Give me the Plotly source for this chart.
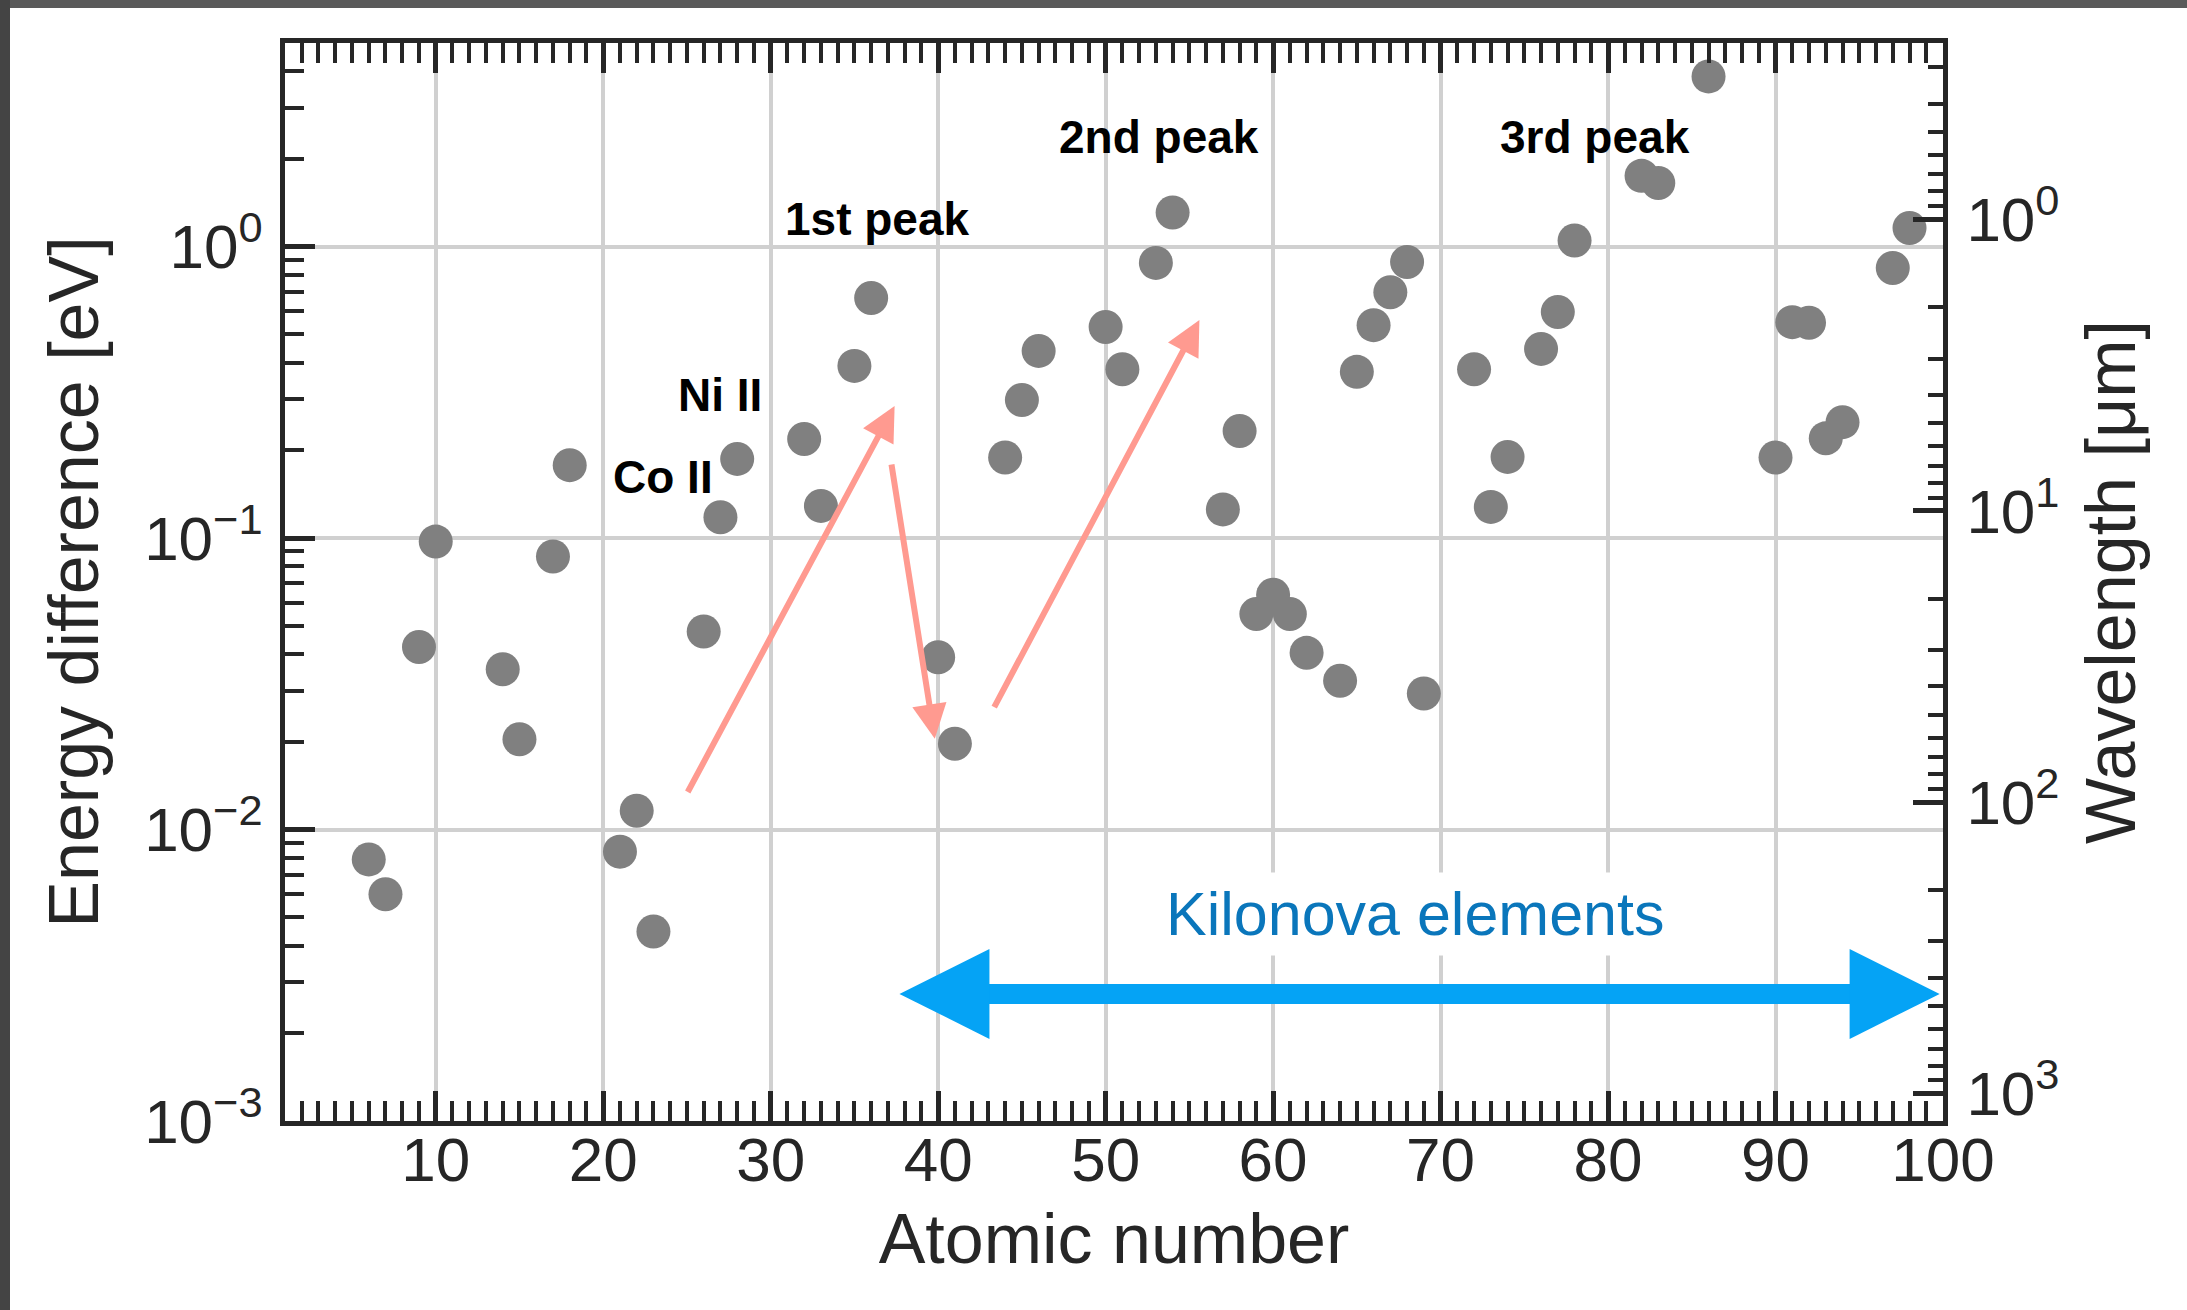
import math
import plotly.graph_objects as go

# ---------------- data ----------------
atomic_number = [6, 7, 9, 10, 14, 15, 17, 18, 21, 22, 23, 26, 27, 28, 32, 33, 35, 36,
                 40, 41, 44, 45, 46, 50, 51, 53, 54, 57, 58, 59, 60, 61, 62, 64, 65,
                 66, 67, 68, 69, 72, 73, 74, 76, 77, 78, 82, 83, 86, 90, 91, 92, 93,
                 94, 97, 98]
energy_ev = [0.0079, 0.0060, 0.0423, 0.0973, 0.0355, 0.0204, 0.0865, 0.178, 0.0084,
             0.0116, 0.00447, 0.0478, 0.118, 0.187, 0.219, 0.129, 0.39, 0.667,
             0.039, 0.0197, 0.189, 0.298, 0.439, 0.53, 0.38, 0.88, 1.31, 0.1255,
             0.233, 0.0549, 0.0639, 0.0549, 0.0404, 0.0324, 0.372, 0.538, 0.698,
             0.886, 0.0293, 0.38, 0.128, 0.19, 0.446, 0.597, 1.05, 1.75, 1.655,
             3.84, 0.189, 0.551, 0.548, 0.22, 0.25, 0.845, 1.16]
HC_EV_UM = 1.23984
wavelength_um = [HC_EV_UM / e for e in energy_ev]

x_range = [1, 100]
energy_range = [1e-3, 5]
x_ticks = [10, 20, 30, 40, 50, 60, 70, 80, 90, 100]
energy_ticks = [1e-3, 1e-2, 1e-1, 1]
energy_tick_text = ["10<sup>\u22123</sup>", "10<sup>\u22122</sup>", "10<sup>\u22121</sup>", "10<sup>0</sup>"]
wavelength_ticks = [1, 10, 100, 1000]
wavelength_tick_text = ["10<sup>0</sup>", "10<sup>1</sup>", "10<sup>2</sup>", "10<sup>3</sup>"]

peak_labels = ["1st peak", "2nd peak", "3rd peak"]
peak_x = [36.4, 53.2, 79.25]
peak_e = [1.245, 2.385, 2.385]
ion_labels = ["Ni II", "Co II"]
ion_x = [26.95, 23.6]
ion_e = [0.3105, 0.162]

# trend arrows: (tail Z, tail E) -> (head Z, head E)
trend_tail_x = [25.0, 37.2, 43.3]
trend_tail_e = [0.0133, 0.181, 0.026]
trend_head_x = [37.4, 39.8, 55.6]
trend_head_e = [0.284, 0.0205, 0.56]

kilonova_label = "Kilonova elements"
kilonova_span = [37.6, 99.8]
kilonova_e = 0.00273
kilonova_label_x = 68.5
kilonova_label_e = 0.00514

# ---------------- styles ----------------
W, H = 2187, 1310
L, R, T, B = 285, 2187 - 1943, 43, 1310 - 1121
AX = "#262626"
GRID = "#d0d0d0"
FAM = "Liberation Sans, Arial, sans-serif"
TICKFONT = dict(family=FAM, size=62, color=AX)
TITLEFONT = dict(family=FAM, size=70, color=AX)
LABELFONT = dict(family=FAM, size=46, color="#000000", weight="bold")

fig = go.Figure()
fig.add_trace(go.Scatter(
    x=atomic_number, y=energy_ev, mode="markers",
    marker=dict(size=34, color="#808080", line=dict(width=0)),
    showlegend=False, hoverinfo="skip"))
fig.add_trace(go.Scatter(
    x=atomic_number, y=wavelength_um, mode="markers", yaxis="y2",
    marker=dict(size=1, opacity=0), showlegend=False, hoverinfo="skip"))

ann = []
for t, x, e in zip(peak_labels + ion_labels, peak_x + ion_x, peak_e + ion_e):
    ann.append(dict(x=x, y=math.log10(e), xref="x", yref="y", text=t, showarrow=False,
                    font=LABELFONT, xanchor="center", yanchor="middle"))
ann.append(dict(x=kilonova_label_x, y=math.log10(kilonova_label_e), xref="x", yref="y",
                text=kilonova_label, showarrow=False, bgcolor="white", borderpad=7,
                font=dict(family=FAM, size=61, color="#0a76bb"),
                xanchor="center", yanchor="middle"))
for tx, te, hx, he in zip(trend_tail_x, trend_tail_e, trend_head_x, trend_head_e):
    ann.append(dict(x=hx, y=math.log10(he), ax=tx, ay=math.log10(te), xref="x", yref="y",
                    axref="x", ayref="y", text="", showarrow=True, arrowhead=2,
                    arrowsize=1.15, arrowwidth=6, arrowcolor="#ff9a90", standoff=0))
ann.append(dict(x=kilonova_span[1], y=math.log10(kilonova_e), ax=kilonova_span[0],
                ay=math.log10(kilonova_e), xref="x", yref="y", axref="x", ayref="y",
                text="", showarrow=True, arrowside="end+start", arrowhead=2,
                startarrowhead=2, arrowsize=0.9, startarrowsize=0.9, arrowwidth=20,
                arrowcolor="#05a3f5", standoff=0, startstandoff=0))

# photo frame (dark strips at top and left)
def px_to_paper_x(px):
    return (px - L) / (W - L - R)

def px_to_paper_y(py):
    return (H - B - py) / (H - T - B)

shapes = [
    dict(type="rect", xref="paper", yref="paper", layer="below",
         x0=px_to_paper_x(0), x1=px_to_paper_x(W), y0=px_to_paper_y(0), y1=px_to_paper_y(8),
         fillcolor="#5a5a5a", line=dict(width=0)),
    dict(type="rect", xref="paper", yref="paper", layer="below",
         x0=px_to_paper_x(0), x1=px_to_paper_x(10), y0=px_to_paper_y(0), y1=px_to_paper_y(H),
         fillcolor="#444444", line=dict(width=0)),
]

fig.update_layout(
    width=W, height=H, margin=dict(l=L, r=R, t=T, b=B, autoexpand=False),
    paper_bgcolor="white", plot_bgcolor="white",
    annotations=ann, shapes=shapes,
    xaxis=dict(range=x_range, tickvals=x_ticks, ticks="inside", ticklen=30, tickwidth=5,
               tickcolor=AX, showline=True, linewidth=5, linecolor=AX, mirror="ticks",
               showgrid=True, gridcolor=GRID, gridwidth=4, zeroline=False,
               tickfont=TICKFONT, ticklabelstandoff=-19,
               minor=dict(dtick=1, tick0=0, ticks="inside", ticklen=20, tickwidth=4,
                          tickcolor=AX, showgrid=False),
               title=dict(text="Atomic number", font=TITLEFONT, standoff=22)),
    yaxis=dict(type="log", range=[math.log10(energy_range[0]), math.log10(energy_range[1])],
               tickvals=energy_ticks, ticktext=energy_tick_text, ticks="inside", ticklen=30,
               tickwidth=5, tickcolor=AX, showline=True, linewidth=5, linecolor=AX,
               mirror=False, showgrid=True, gridcolor=GRID, gridwidth=4, zeroline=False,
               tickfont=TICKFONT, ticklabelstandoff=5,
               minor=dict(dtick="D1", ticks="inside", ticklen=19, tickwidth=4,
                          tickcolor=AX, showgrid=False),
               title=dict(text="Energy difference [eV]", font=TITLEFONT, standoff=24)),
    yaxis2=dict(type="log", overlaying="y", side="right", anchor="x",
                range=[math.log10(HC_EV_UM / energy_range[0]), math.log10(HC_EV_UM / energy_range[1])],
                tickvals=wavelength_ticks, ticktext=wavelength_tick_text, ticks="inside",
                ticklen=30, tickwidth=5, tickcolor=AX, showline=True, linewidth=5,
                linecolor=AX, showgrid=False, zeroline=False, tickfont=TICKFONT,
                ticklabelstandoff=6,
                minor=dict(dtick="D1", ticks="inside", ticklen=15, tickwidth=4,
                           tickcolor=AX, showgrid=False),
                title=dict(text="Wavelength [\u03bcm]", font=TITLEFONT, standoff=29)),
)

fig.write_html("out.html")
